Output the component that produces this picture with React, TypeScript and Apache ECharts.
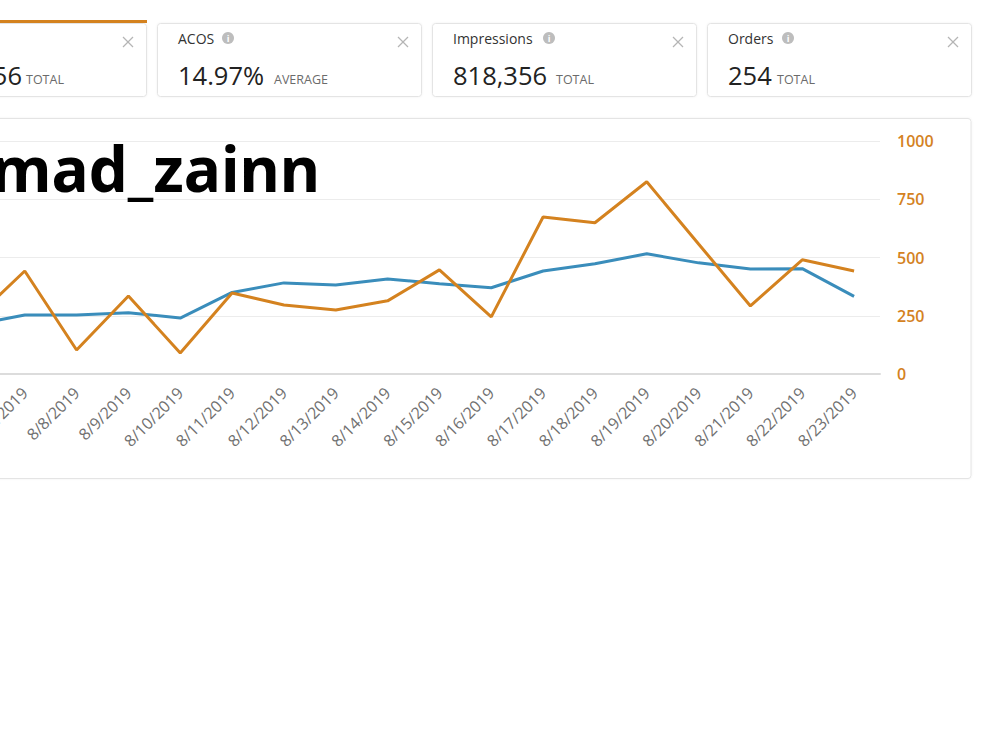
import React, { useEffect, useRef } from "react";
import * as echarts from "echarts";

const dates = [
  "8/6/2019", "8/7/2019", "8/8/2019", "8/9/2019", "8/10/2019", "8/11/2019",
  "8/12/2019", "8/13/2019", "8/14/2019", "8/15/2019", "8/16/2019", "8/17/2019",
  "8/18/2019", "8/19/2019", "8/20/2019", "8/21/2019", "8/22/2019", "8/23/2019",
];
const orangeSeries = [230, 442, 103, 335, 90, 348, 296, 275, 314, 447, 245, 674, 649, 825, 558, 292, 490, 442];
const blueSeries = [210, 253, 253, 263, 240, 350, 391, 382, 408, 387, 370, 442, 473, 516, 477, 451, 452, 333];

const cardTitles = ["", "ACOS", "Impressions", "Orders"];
const cardValues = ["56", "14.97%", "818,356", "254"];
const cardUnits = ["TOTAL", "AVERAGE", "TOTAL", "TOTAL"];
const watermark = "mad_zainn";

const ORANGE = "#D4821F";
const BLUE = "#3A8DBB";
const FONT = "'Open Sans', 'Noto Sans', sans-serif";
// the canvas is shifted left so the chart can be clipped at the page's left edge
const OX = 100;

function buildCards(): any[] {
  const els: any[] = [];
  const lefts = [-118, 157, 432, 707];
  const width = 264;
  const titleWidths = [0, 40, 86, 50];
  const valueWidths = [0, 90, 97, 43];
  lefts.forEach((L0, i) => {
    const L = L0 + OX;
    els.push({
      type: "rect",
      z: -10,
      shape: { x: L + 0.5, y: 23.5, width, height: 73, r: 3 },
      style: { fill: "#fff", stroke: "#e4e4e4", lineWidth: 1, shadowBlur: 2, shadowColor: "rgba(0,0,0,0.06)" },
    });
    if (i === 0) {
      els.push({
        type: "rect",
        z: -9,
        shape: { x: L, y: 20, width: width + 1, height: 3 },
        style: { fill: ORANGE },
      });
    }
    const cx = L + 246, cy = 42, s = 5;
    els.push({ type: "line", shape: { x1: cx - s, y1: cy - s, x2: cx + s, y2: cy + s }, style: { stroke: "#b5b5b5", lineWidth: 1.3 } });
    els.push({ type: "line", shape: { x1: cx - s, y1: cy + s, x2: cx + s, y2: cy - s }, style: { stroke: "#b5b5b5", lineWidth: 1.3 } });
    if (cardTitles[i]) {
      els.push({
        type: "text",
        x: L + 21,
        y: 38,
        style: { text: cardTitles[i], fill: "#333", font: `14px ${FONT}`, textVerticalAlign: "middle" },
      });
      const ix = L + 21 + titleWidths[i] + 10;
      els.push({ type: "circle", shape: { cx: ix, cy: 38, r: 6 }, style: { fill: "#bdbdbd" } });
      els.push({
        type: "text",
        x: ix,
        y: 38.5,
        style: { text: "i", fill: "#fff", font: `bold 9px ${FONT}`, textAlign: "center", textVerticalAlign: "middle" },
      });
      els.push({
        type: "text",
        x: L + 21,
        y: 88,
        style: { text: cardValues[i], fill: "#222", font: `25.5px ${FONT}`, textVerticalAlign: "bottom" },
      });
      els.push({
        type: "text",
        x: L + 21 + valueWidths[i] + 6,
        y: 86,
        style: { text: cardUnits[i], fill: "#6b6b6b", font: `12.5px ${FONT}`, textVerticalAlign: "bottom" },
      });
    } else {
      els.push({
        type: "text",
        x: OX + 22,
        y: 88,
        style: { text: cardValues[i], fill: "#222", font: `25.5px ${FONT}`, textAlign: "right", textVerticalAlign: "bottom" },
      });
      els.push({
        type: "text",
        x: OX + 26,
        y: 86,
        style: { text: cardUnits[i], fill: "#6b6b6b", font: `12.5px ${FONT}`, textVerticalAlign: "bottom" },
      });
    }
  });
  els.push({
    type: "rect",
    z: -10,
    shape: { x: OX - 20, y: 118.5, width: 991, height: 360, r: 3 },
    style: { fill: "#fff", stroke: "#e4e4e4", lineWidth: 1, shadowBlur: 2, shadowColor: "rgba(0,0,0,0.06)" },
  });
  els.push({
    type: "text",
    z: 100,
    x: OX - 9,
    y: 137,
    style: { text: watermark, fill: "#000", font: `bold 62px 'Noto Sans', sans-serif`, textVerticalAlign: "top" },
  });
  return els;
}

export default function App() {
  const ref = useRef<HTMLDivElement>(null);
  useEffect(() => {
    const chart = echarts.init(ref.current!, undefined, { renderer: "svg" });
    chart.setOption({
      animation: false,
      backgroundColor: "#fff",
      graphic: buildCards(),
      grid: { left: OX - 53, right: 120, top: 141, height: 233, containLabel: false },
      xAxis: {
        type: "category",
        data: dates,
        boundaryGap: true,
        axisLine: { lineStyle: { color: "#dcdcdc", width: 2 } },
        axisTick: { show: false },
        axisLabel: { rotate: 45, color: "#707070", fontFamily: FONT, fontSize: 16, margin: 16, interval: 0 },
      },
      yAxis: {
        type: "value",
        position: "right",
        min: 0,
        max: 1000,
        interval: 250,
        axisLine: { show: false },
        axisTick: { show: false },
        splitLine: { lineStyle: { color: "#ececec", width: 1 } },
        axisLabel: {
          color: ORANGE,
          fontFamily: FONT,
          fontSize: 16,
          fontWeight: 600,
          margin: 17,
          formatter: (v: number) => String(v),
        },
      },
      series: [
        {
          name: "blue",
          type: "line",
          data: blueSeries,
          symbol: "none",
          lineStyle: { color: BLUE, width: 3 },
          z: 3,
        },
        {
          name: "orange",
          type: "line",
          data: orangeSeries,
          symbol: "none",
          lineStyle: { color: ORANGE, width: 3 },
          z: 4,
        },
      ],
    });
    return () => chart.dispose();
  }, []);
  return (
    <div
      ref={ref}
      style={{ position: "fixed", left: -OX, top: 0, width: 1000 + OX, height: 750, background: "#fff" }}
    />
  );
}
